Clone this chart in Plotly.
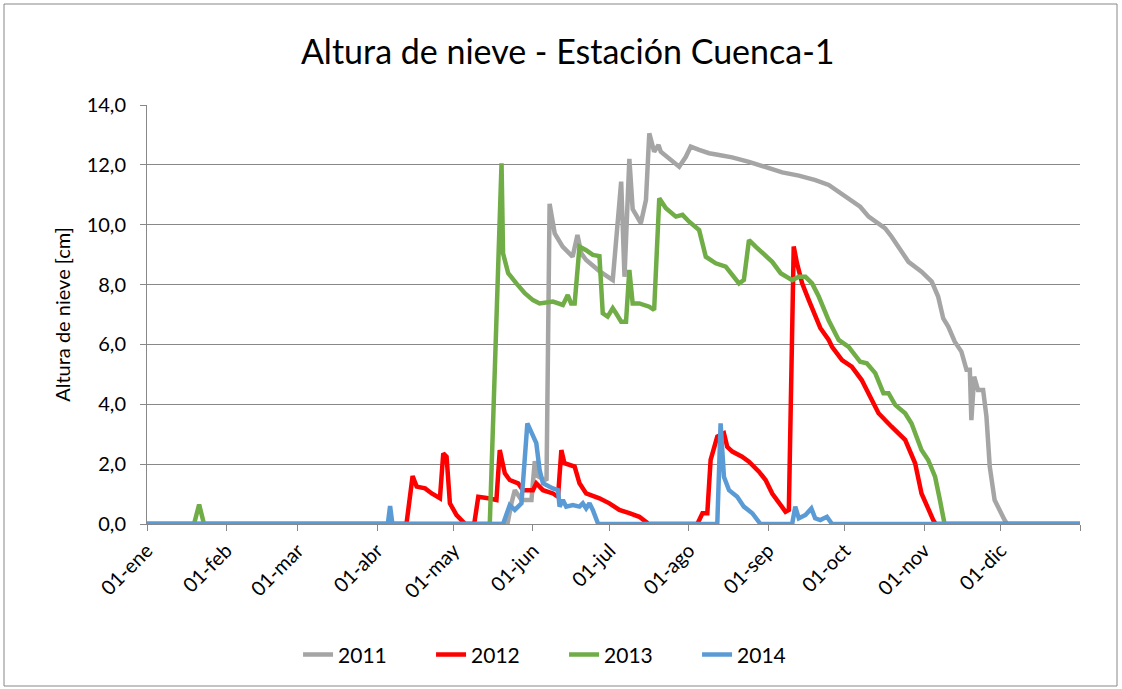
import plotly.graph_objects as go

# Day of year (0 = 1 January) and snow depth in cm for each season
days_2011 = [0, 141, 142.6, 143.9, 146.5, 150.4, 151.7, 152.8, 155.6, 156.3, 157.5, 159.5, 162.6,
             166.5, 168.4, 169.9, 171.8, 177, 182.2, 185.5, 186.8, 188.7, 190, 193.2, 195.2,
             196.5, 198.4, 200.1, 201, 205, 208.2, 210.8, 212.7, 216, 219.9, 223.8, 228.9,
             235.5, 242, 248.5, 255, 261.5, 266.7, 270.6, 274.5, 279, 282.3, 288.8, 291.3,
             294, 297.9, 303, 307, 309.5, 311.5, 313.5, 316, 318.6, 320.6, 321.9, 322.5,
             323.6, 325.1, 327.1, 328.4, 329.7, 331.6, 335.5, 336.5, 365]
snow_2011 = [0, 0, 0.7, 1.13, 0.8, 0.8, 2.1, 1.6, 1.47, 1.5, 10.7, 9.71, 9.27,
             8.93, 9.66, 9.04, 8.82, 8.45, 8.15, 11.44, 8.26, 12.2, 10.52, 10.05, 10.83,
             13.05, 12.44, 12.66, 12.44, 12.16, 11.94, 12.27, 12.61, 12.5, 12.39, 12.33, 12.25,
             12.1, 11.94, 11.75, 11.64, 11.49, 11.33, 11.1, 10.83, 10.6, 10.27, 9.88, 9.6,
             9.27, 8.76, 8.43, 8.1, 7.6, 6.87, 6.59, 6.09, 5.76, 5.15, 5.15, 3.47,
             4.92, 4.48, 4.48, 3.59, 1.91, 0.8, 0.13, 0, 0]

days_2012 = [0, 101.5, 103.9, 105.5, 108.8, 111.4, 114.6, 115.9, 117.2, 118.5, 121.1, 123.7,
             124.5, 128, 129.6, 133.5, 136.7, 138, 140, 141.9, 145.2, 147.1, 151, 152.3,
             154.9, 158.8, 160.8, 162.1, 163.3, 167.3, 169.2, 171.8, 177, 180.9, 184.8,
             188.7, 192.6, 195.5, 196, 215.3, 217.3, 219.2, 220.5, 223.1, 225.7, 227, 229,
             232.8, 235.5, 239.4, 242, 244.6, 247.2, 249.8, 251.1, 253, 254.3, 256.3, 258.9,
             261.5, 263.4, 266.7, 268, 271.9, 275.7, 279.6, 283.5, 286.2, 291.3, 296.6,
             300.5, 303, 307.6, 308.5, 365]
snow_2012 = [0, 0, 1.6, 1.25, 1.19, 1.02, 0.86, 2.36, 2.25, 0.69, 0.3, 0.08,
             0, 0, 0.91, 0.86, 0.8, 2.47, 1.69, 1.47, 1.36, 1.13, 1.13, 1.36,
             1.13, 1.02, 0.91, 2.47, 2.03, 1.92, 1.36, 1.02, 0.86, 0.69, 0.47,
             0.36, 0.24, 0.05, 0, 0, 0.36, 0.36, 2.14, 2.92, 3.03, 2.58, 2.42,
             2.25, 2.08, 1.75, 1.47, 1.02, 0.69, 0.41, 0.47, 9.27, 8.71, 8.04, 7.48,
             6.93, 6.55, 6.15, 5.92, 5.48, 5.26, 4.81, 4.14, 3.7, 3.25, 2.81,
             2.03, 1.02, 0.13, 0, 0]

days_2013 = [0, 18.4, 20.4, 22.3, 134.1, 138.7, 139.3, 141.3, 144.5, 147.8, 151, 153.6,
             158.8, 162.7, 164.6, 165.9, 167.3, 169.2, 171.8, 174.4, 177, 178.3, 180.2,
             182.2, 183.5, 185.5, 187.4, 188.7, 190, 192.6, 196.5, 198.4, 200.4, 203,
             206.9, 209.5, 212.1, 216, 218.6, 222.5, 226.4, 229, 231.6, 233.5, 235.5,
             238.1, 242, 244.6, 247.9, 252.4, 255, 257.6, 260.2, 262.8, 266.7, 270.6,
             274.5, 279, 281.6, 284.9, 288.1, 290.1, 292.7, 296.6, 299.1, 303, 305.6,
             308.3, 310.2, 311.9, 312.5, 365]
snow_2013 = [0, 0, 0.65, 0, 0, 12.05, 9.04, 8.38, 8.04, 7.71, 7.48, 7.37,
             7.43, 7.32, 7.65, 7.37, 7.37, 9.27, 9.15, 8.99, 8.95, 7.04, 6.93,
             7.21, 7.04, 6.76, 6.76, 8.49, 7.37, 7.37, 7.26, 7.15, 10.88, 10.55,
             10.27, 10.33, 10.1, 9.82, 8.93, 8.71, 8.6, 8.32, 8.04, 8.15, 9.49,
             9.27, 8.99, 8.76, 8.38, 8.15, 8.26, 8.26, 8.04, 7.6, 6.8, 6.15,
             5.92, 5.42, 5.37, 5.04, 4.37, 4.37, 3.98, 3.7, 3.36, 2.47, 2.14,
             1.58, 0.8, 0.05, 0, 0]

days_2014 = [0, 94.2, 95.1, 96, 139.3, 141.9, 143.9, 146.5, 148.8, 150.4, 152.3, 153.6,
             154.9, 158.8, 160.8, 161.4, 162.7, 164, 166.6, 169.2, 170.5, 171.8, 173.1,
             174.4, 175.7, 176.5, 223.1, 224.4, 225.7, 227.7, 230.9, 233.5, 236.8, 239.4,
             240, 252.4, 253.6, 255, 257.6, 259.9, 261.4, 263.4, 266, 268, 365]
snow_2014 = [0, 0, 0.6, 0, 0, 0.63, 0.47, 0.69, 3.36, 3.03, 2.7, 1.8,
             1.36, 1.19, 1.13, 0.58, 0.8, 0.58, 0.63, 0.58, 0.69, 0.52, 0.69,
             0.47, 0.13, 0, 0, 3.36, 1.58, 1.13, 0.91, 0.58, 0.36, 0.08,
             0, 0, 0.58, 0.19, 0.3, 0.52, 0.19, 0.13, 0.24, 0, 0]

month_starts = [0, 31, 59, 90, 120, 151, 181, 212, 243, 273, 304, 334, 365]
month_labels = ["01-ene", "01-feb", "01-mar", "01-abr", "01-may", "01-jun",
                "01-jul", "01-ago", "01-sep", "01-oct", "01-nov", "01-dic", ""]

series = [
    ("2011", days_2011, snow_2011, "#A5A5A5"),
    ("2012", days_2012, snow_2012, "#FF0000"),
    ("2013", days_2013, snow_2013, "#70AD47"),
    ("2014", days_2014, snow_2014, "#5B9BD5"),
]

FONT = "Lato, 'Open Sans', sans-serif"

fig = go.Figure()
for name, x, y, color in series:
    fig.add_trace(go.Scatter(x=x, y=y, mode="lines", name=name,
                             line=dict(color=color, width=4.5)))

fig.update_layout(
    width=1122, height=689,
    margin=dict(l=147, r=42, t=105, b=165),
    paper_bgcolor="white", plot_bgcolor="white",
    separators=",.",
    font=dict(family=FONT, color="black", size=20),
    title=dict(text="Altura de nieve - Estación Cuenca-1",
               x=0.506, xref="container", xanchor="center",
               y=1 - 52 / 689, yref="container", yanchor="middle",
               font=dict(family=FONT, size=34, color="black")),
    legend=dict(orientation="h", x=0.447, xanchor="center", y=-0.312, yanchor="middle",
                font=dict(family=FONT, size=21), entrywidth=88, entrywidthmode="pixels",
                traceorder="normal"),
    showlegend=True,
)

fig.update_xaxes(
    range=[0, 365], tickmode="array", tickvals=month_starts, ticktext=month_labels,
    tickangle=-45, ticks="outside", ticklen=6, tickcolor="#888888",
    showgrid=False, showline=True, linecolor="#888888", linewidth=1,
    zeroline=False, tickfont=dict(family=FONT, size=20),
)
fig.update_yaxes(
    range=[0, 14], dtick=2, tickformat=".1f",
    ticks="outside", ticklen=6, tickcolor="#888888",
    showgrid=True, gridcolor="#888888", gridwidth=1,
    showline=True, linecolor="#888888", linewidth=1, zeroline=False,
    tickfont=dict(family=FONT, size=20), ticklabelstandoff=10,
    title=dict(text="Altura de nieve [cm]", font=dict(family=FONT, size=20), standoff=10),
)

# Outer frame around the whole chart
fig.add_shape(type="rect", xref="paper", yref="paper",
              x0=(4 - 147) / 933, x1=(1117 - 147) / 933,
              y0=(524 - 686) / 419, y1=(524 - 4) / 419,
              line=dict(color="#888888", width=1), fillcolor="rgba(0,0,0,0)", layer="below")

fig.write_html("out.html")
